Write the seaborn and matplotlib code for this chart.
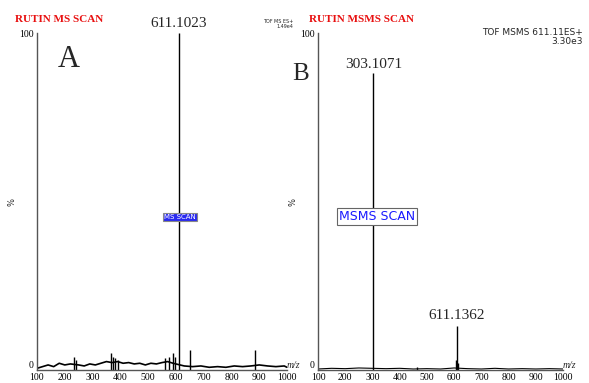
import matplotlib
matplotlib.use("Agg")
import matplotlib.pyplot as plt
import seaborn as sns
import pandas as pd

sns.set_style("white")
plt.rcParams['font.family'] = ['Liberation Serif', 'DejaVu Serif']

# Panel A: MS scan peaks (m/z, relative intensity %)
mz_a = [611.1023, 232, 241, 365, 372, 381, 392, 560, 575, 590, 598, 650, 885]
int_a = [100, 4, 3, 5, 4, 3.5, 3, 3.5, 4, 5, 4, 6, 6]
# Panel A baseline noise sampled along the range
noise_mz_a = [100, 120, 140, 160, 180, 200, 220, 250, 270, 290, 310, 330, 350, 370,
              390, 410, 430, 450, 470, 490, 510, 530, 550, 570, 590, 630, 660, 690,
              720, 750, 780, 810, 840, 870, 900, 930, 960, 990, 1000]
noise_int_a = [0.5, 1.0, 1.5, 1.0, 2.0, 1.5, 1.8, 1.5, 1.2, 1.8, 1.5, 2.0, 2.5, 2.2,
               2.5, 2.0, 2.2, 1.8, 2.0, 1.5, 2.0, 1.8, 2.2, 2.5, 2.0, 1.2, 1.0, 1.2,
               0.8, 1.0, 0.8, 1.2, 1.0, 1.2, 1.5, 1.2, 1.0, 1.2, 0.8]

# Panel B: MSMS scan peaks
mz_b = [303.1071, 611.1362, 607, 615, 465]
int_b = [88, 13, 3, 2, 1]
noise_mz_b = [100, 150, 200, 250, 300, 350, 400, 450, 500, 550, 600, 650, 700,
              750, 800, 850, 900, 950, 1000]
noise_int_b = [0.3, 0.5, 0.4, 0.6, 0.5, 0.4, 0.5, 0.3, 0.4, 0.3, 0.6, 0.4, 0.3,
               0.5, 0.3, 0.4, 0.3, 0.4, 0.3]

xticks = [100, 200, 300, 400, 500, 600, 700, 800, 900, 1000]

W, H = 589, 383
fig = plt.figure(figsize=(W / 100, H / 100), dpi=100)

def px_axes(x0, x1, ytop, ybot):
    return fig.add_axes([x0 / W, 1 - ybot / H, (x1 - x0) / W, (ybot - ytop) / H])

def style(ax):
    ax.set_xlim(100, 1000)
    ax.set_ylim(0, 100)
    sns.despine(ax=ax)
    for s in ["left", "bottom"]:
        ax.spines[s].set_color("#555555")
        ax.spines[s].set_linewidth(1.0)
    ax.set_xticks(xticks)
    ax.set_xticklabels([str(t) for t in xticks], fontsize=7)
    ax.set_yticks([0, 100])
    ax.set_yticklabels(["0", "100"], fontsize=7)
    ax.get_yticklabels()[0].set_va("bottom")
    ax.tick_params(axis="both", length=2, pad=0.5, colors="#333333", labelcolor="black")
    ax.set_ylabel("%", fontsize=6, labelpad=2, family="DejaVu Sans")
    ax.set_xlabel("")
    ax.text(1.0, 0.0, "m/z", transform=ax.transAxes, fontsize=7, style="italic",
            ha="left", va="bottom")

axA = px_axes(37, 287, 33, 370)
dfA = pd.DataFrame({"mz": noise_mz_a, "i": noise_int_a})
sns.lineplot(data=dfA, x="mz", y="i", ax=axA, color="black", linewidth=1.2)
axA.vlines(mz_a, 0, int_a, color="black", linewidth=1.0)
style(axA)
axA.annotate("611.1023", (611, 100), xytext=(0, 2), textcoords="offset points",
             ha="center", va="bottom", fontsize=11, annotation_clip=False)
axA.text(0.085, 0.965, "A", transform=axA.transAxes, fontsize=22, va="top", ha="left")
axA.text(0.572, 0.455, "MS SCAN", transform=axA.transAxes, fontsize=5, ha="center",
         va="center", color="white", family="DejaVu Sans",
         bbox=dict(boxstyle="square,pad=0.15", fc="#2a2af0", ec="#888888", lw=0.8))

axB = px_axes(318, 563, 33, 370)
dfB = pd.DataFrame({"mz": noise_mz_b, "i": noise_int_b})
sns.lineplot(data=dfB, x="mz", y="i", ax=axB, color="black", linewidth=0.8)
axB.vlines(mz_b, 0, int_b, color="black", linewidth=1.0)
style(axB)
axB.annotate("303.1071", (303, int_b[0]), xytext=(0, 2), textcoords="offset points",
             ha="center", va="bottom", fontsize=11, annotation_clip=False)
axB.annotate("611.1362", (611, int_b[1]), xytext=(0, 3), textcoords="offset points",
             ha="center", va="bottom", fontsize=11, annotation_clip=False)
axB.text(0.24, 0.455, "MSMS SCAN", transform=axB.transAxes, fontsize=9, ha="center",
         va="center", color="#1a1aff", family="DejaVu Sans",
         bbox=dict(boxstyle="square,pad=0.15", fc="white", ec="#666666", lw=0.8))

# Titles and headers
fig.text(15 / W, 1 - 20 / H, "RUTIN MS SCAN", color="#e81010", fontsize=8,
         fontweight="bold", ha="left", va="center")
fig.text(309 / W, 1 - 20 / H, "RUTIN MSMS SCAN", color="#e81010", fontsize=8,
         fontweight="bold", ha="left", va="center")
fig.text(292 / W, 1 - 74 / H, "B", fontsize=18, ha="left", va="center")
fig.text(293 / W, 1 - 24 / H, "TOF MS ES+\n1.49e4", fontsize=3.5, ha="right",
         va="center", family="DejaVu Sans", linespacing=1.0)
fig.text(583 / W, 1 - 37 / H, "TOF MSMS 611.11ES+\n3.30e3", fontsize=6.5, ha="right",
         va="center", family="DejaVu Sans", linespacing=1.0)

fig.savefig("out.png", dpi=100)
